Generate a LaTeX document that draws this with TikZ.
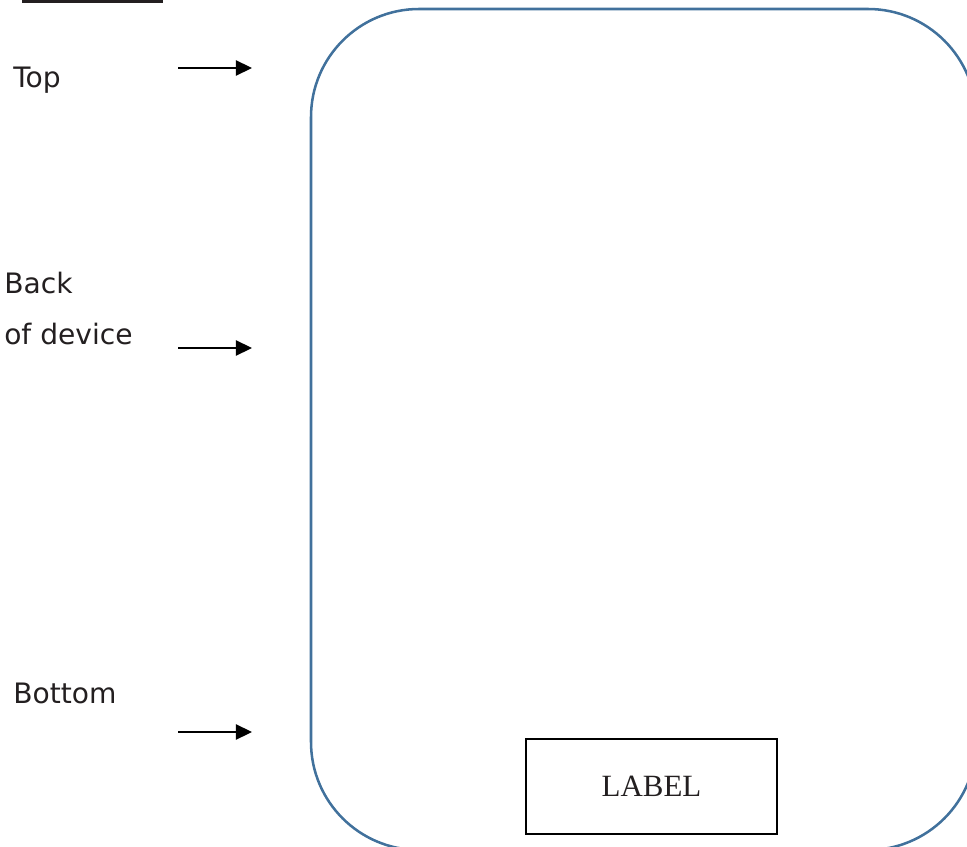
\documentclass[tikz,border=0pt]{standalone}
\usepackage{fontspec}
\setmainfont{Liberation Serif}
\newfontfamily\sidefont{DejaVu Sans}
\usetikzlibrary{arrows.meta}
\definecolor{devblue}{HTML}{41719C}
\definecolor{inkgray}{HTML}{231F20}
\tikzset{
    side/.style={anchor=base west, inner sep=0pt, text=inkgray, font=\sidefont\fontsize{20}{24}\selectfont},
    pointer/.style={line width=1pt, -{Triangle[length=4mm, width=3.8mm]}}
}

\begin{document}
\begin{tikzpicture}[x=0.025cm, y=-0.025cm]
    \useasboundingbox (0,0) rectangle (967,847);
    \clip (0,0) rectangle (967,847);
    \fill[inkgray] (22,0) rectangle (163,3);
    \draw[devblue, line width=1.8pt, rounded corners=2.7cm] (311,9) rectangle (976,850);
    \node[draw, line width=1.1pt, text=inkgray, minimum width=6.275cm, minimum height=2.375cm,
        font=\fontsize{22}{26}\selectfont] (label) at (651.5,786.5) {LABEL};
    \node[side] (top) at (13,88) {Top};
    \node[side] (back) at (4,293) {Back};
    \node[side] (device) at (4,344) {of device};
    \node[side] (bottom) at (13,703) {Bottom};
    \foreach \y/\n in {68/top, 348/back, 732/bottom} {
        \coordinate (\n tail) at (178,\y);
        \coordinate (\n head) at (252,\y);
        \draw[pointer] (\n tail) -- (\n head);
    }
%% left side points at the device outline
\end{tikzpicture}
\end{document}
